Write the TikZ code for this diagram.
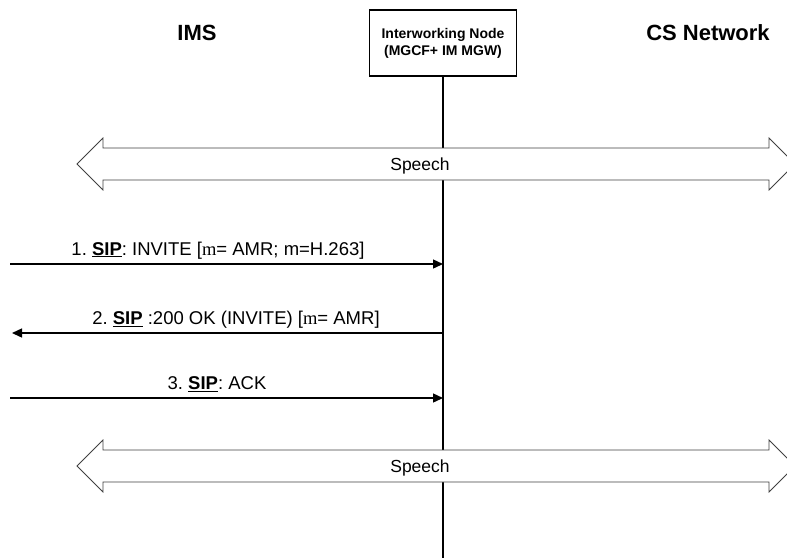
\documentclass[tikz,border=0pt]{standalone}
\usepackage{fontspec}
\setmainfont{Liberation Sans}
\newfontfamily\serifm{Liberation Serif}
\usetikzlibrary{arrows.meta,calc}
\frenchspacing

\tikzset{
  entity/.style={anchor=base, inner sep=0pt, font=\bfseries\fontsize{22}{26}\selectfont},
  iwbox/.style={draw, line width=1.4pt, minimum width=147pt, minimum height=66pt,
    align=center, inner sep=0pt, font=\bfseries\fontsize{14}{17}\selectfont},
  lifeline/.style={draw, line width=1.4pt},
  msg/.style={draw, line width=1.4pt, -{Triangle[length=10pt,width=9pt]}},
  msglabel/.style={anchor=base, inner sep=0pt, font=\fontsize{18.5}{21}\selectfont},
  speech/.style={draw=black!75, fill=white, line width=0.8pt, line join=miter},
}
\newcommand{\sipword}{\underline{\textbf{SIP}}}
% wide double arrow for the media path, #1 = centre y, #2 = label name
\newcommand{\speechflow}[2]{%
  \draw[speech] (77,#1) -- (103,{#1-26}) -- (103,{#1-16}) -- (769,{#1-16})
    -- (769,{#1-26}) -- (795,#1) -- (769,{#1+26}) -- (769,{#1+16})
    -- (103,{#1+16}) -- (103,{#1+26}) -- cycle;
  \node[msglabel, font=\fontsize{17.5}{20}\selectfont] (#2) at (420,{#1+6}) {Speech};
}

\begin{document}
\begin{tikzpicture}[x=1pt, y=-1pt]
  \useasboundingbox (0,0) rectangle (787,558);
  \clip (0,0) rectangle (787,558);
  % entities
  \node[entity] (ims) at (197,40) {IMS};
  \node[entity] (cs)  at (708,40) {CS Network};
  \node[iwbox]  (iwn) at (443,43) {Interworking Node\\(MGCF+ IM MGW)};
  \coordinate (lifeend) at (443,558);
  \draw[lifeline] (iwn.south) -- (lifeend);
  % media before and after the exchange
  \speechflow{164}{sp1}
  \speechflow{466}{sp2}
  % message end points
  \coordinate (m1a) at (10,264);
  \coordinate (m1b) at (443,264);
  \coordinate (m2a) at (443,333);
  \coordinate (m2b) at (12,333);
  \coordinate (m3a) at (10,398);
  \coordinate (m3b) at (443,398);
  % messages
  \draw[msg] (m1a) -- (m1b);
  \node[msglabel] (t1) at (218,255) {1. \sipword: INVITE [{\serifm m}= AMR; m=H.263]};
  \draw[msg] (m2a) -- (m2b);
  \node[msglabel] (t2) at (236,324.5) {2. \sipword{} :200 OK (INVITE) [{\serifm m}= AMR]};
  \draw[msg] (m3a) -- (m3b);
  \node[msglabel] (t3) at (217,389.5) {3. \sipword: ACK};
\end{tikzpicture}
\end{document}
